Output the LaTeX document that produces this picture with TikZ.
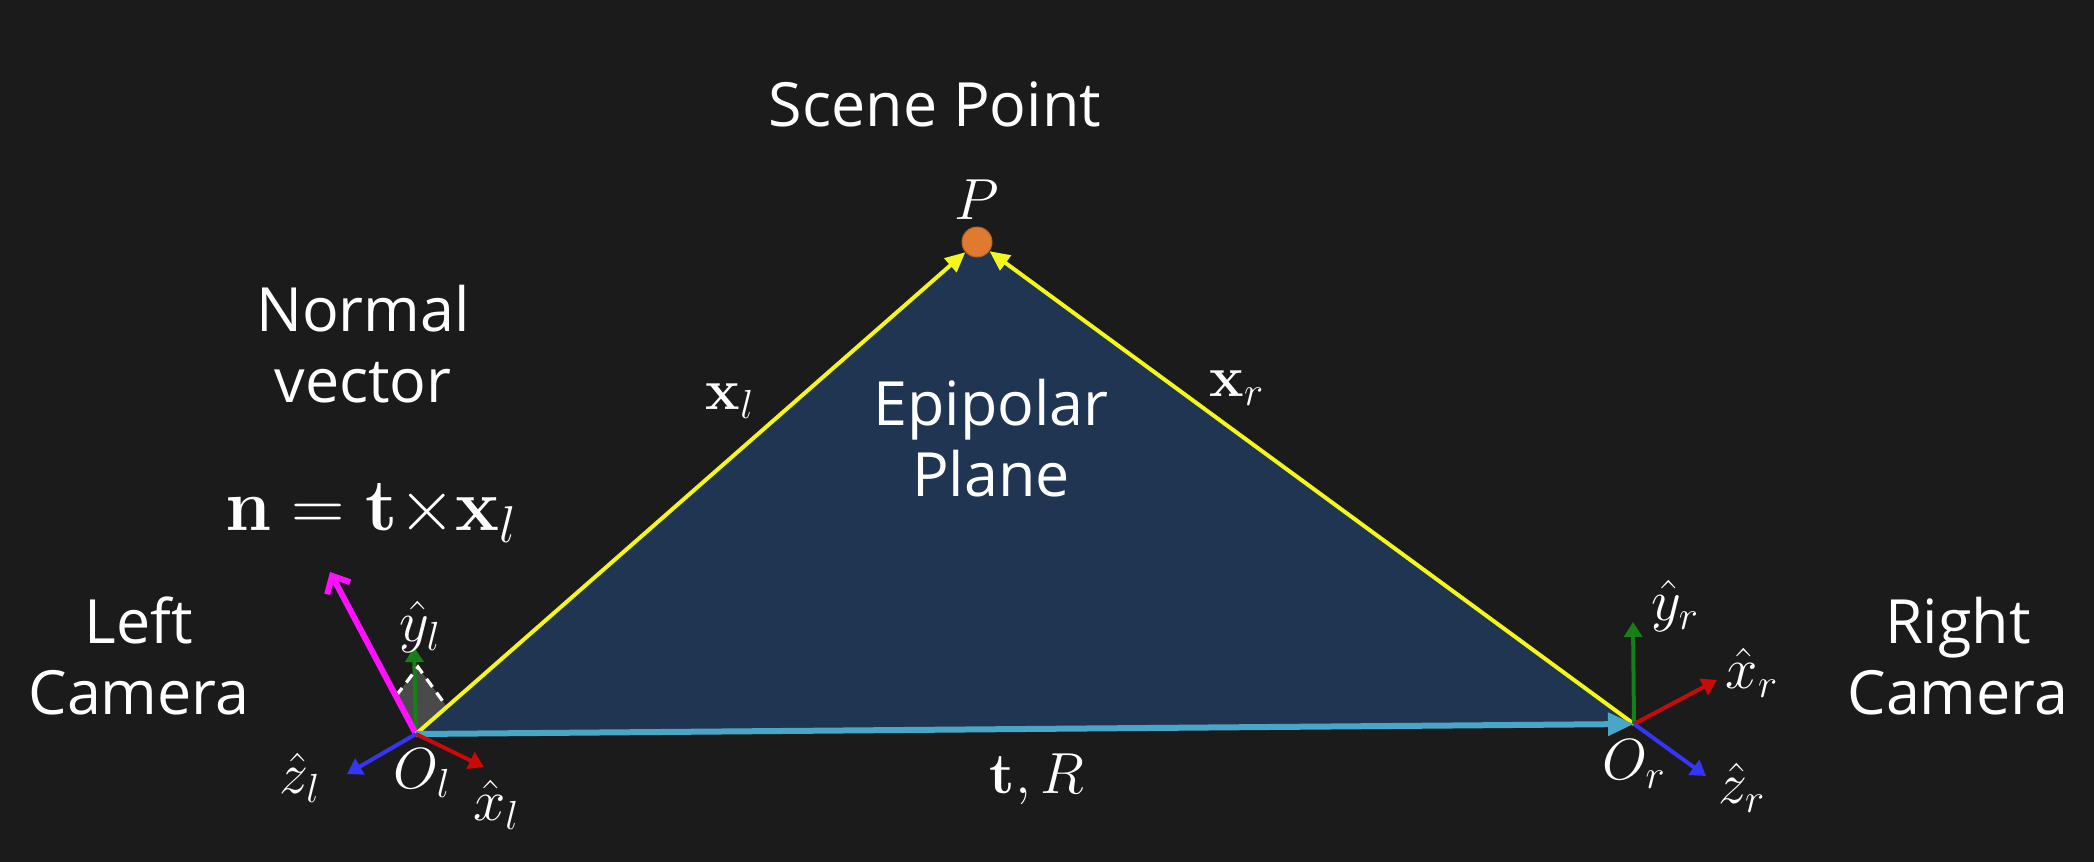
\RequirePackage{fix-cm}
\documentclass[tikz,border=0pt]{standalone}
\usepackage[no-math]{fontspec}
\setmainfont{Open Sans}
\usetikzlibrary{arrows.meta}
\definecolor{bgc}{HTML}{1B1B1B}
\definecolor{planec}{HTML}{1F3552}
\definecolor{yel}{HTML}{F5F520}
\definecolor{cyanc}{HTML}{4AA6C6}
\definecolor{magc}{HTML}{FF10FF}
\definecolor{grn}{HTML}{168016}
\definecolor{redc}{HTML}{C80A0A}
\definecolor{bluc}{HTML}{3535F5}
\definecolor{orng}{HTML}{E07A2E}
\definecolor{quadc}{HTML}{4A4A4A}
\tikzset{
  txt/.style={text=white, font=\fontsize{30.5}{35.5}\selectfont, align=center, inner sep=0pt},
  mlab/.style={text=white, font=\fontsize{29}{32}\selectfont, inner sep=0pt},
  yarrow/.style={draw=yel, line width=2pt, -{Triangle[length=10pt,width=9pt]}},
  carrow/.style={draw=cyanc, line width=3pt, -{Triangle[length=13pt,width=11pt]}},
  axarrow/.style={line width=2pt, -{Triangle[length=7.5pt,width=9pt]}},
  marrow/.style={draw=magc, line width=3pt, -{Straight Barb[length=7pt,width=13pt,line width=3pt]}},
  dashline/.style={draw=white, line width=1.6pt, dash pattern=on 5pt off 3.5pt},
}
\begin{document}
\begin{tikzpicture}[x=0.5pt,y=-0.5pt]
\fill[bgc] (0,0) rectangle (2094,862);
\useasboundingbox (0,0) rectangle (2094,862);
% key points
\coordinate (Ol) at (416,734);
\coordinate (Or) at (1634,724);
\coordinate (Pc) at (977,242);
% plane
\fill[planec] (Ol) -- (Pc) -- (Or) -- cycle;
% left camera details
\coordinate (qL) at (396,696);
\coordinate (qA) at (418,667);
\coordinate (qR) at (447,707);
\fill[quadc] (Ol) -- (qL) -- (qA) -- (qR) -- cycle;
\coordinate (ylt) at (414,647);
\coordinate (xlt) at (484,767);
\coordinate (zlt) at (347,774);
\coordinate (nt) at (330,572);
\draw[axarrow, draw=grn, fill=grn] (Ol) -- (ylt);
\draw[dashline] (qL) -- (qA) -- (qR);
\draw[marrow] (Ol) -- (nt);
% P
\node[circle, fill=orng, draw=orng!80!black, line width=0.5pt, minimum size=15pt, inner sep=0pt] (P) at (Pc) {};
\draw[yarrow] (Ol) -- (P);
\draw[yarrow] (Or) -- (P);
\draw[carrow] (Ol) -- (Or);
\draw[axarrow, draw=redc] (Ol) -- (xlt);
\draw[axarrow, draw=bluc] (Ol) -- (zlt);
% right camera axes
\coordinate (yrt) at (1633,622);
\coordinate (xrt) at (1717,680);
\coordinate (zrt) at (1706,776);
\draw[axarrow, draw=grn] (Or) -- (yrt);
\draw[axarrow, draw=redc] (Or) -- (xrt);
\draw[axarrow, draw=bluc] (Or) -- (zrt);
% labels
\node[mlab] (Plab) at (977,200) {$P$};
\node[mlab] (yl) at (420,627) {$\hat{y}_l$};
\node[mlab] (zl) at (300,778) {$\hat{z}_l$};
\node[mlab] (Oll) at (422,773) {$O_l$};
\node[mlab] (xl) at (496,805) {$\hat{x}_l$};
\node[mlab] (yr) at (1675,606) {$\hat{y}_r$};
\node[mlab] (xr) at (1752,673) {$\hat{x}_r$};
\node[mlab] (Orl) at (1634,764) {$O_r$};
\node[mlab] (zr) at (1742,788) {$\hat{z}_r$};
\node[mlab] (xlv) at (730,401) {$\mathbf{x}_l$};
\node[mlab] (xrv) at (1237,388) {$\mathbf{x}_r$};
\node[mlab] (tR) at (1037,779) {$\mathbf{t}, R$};
\node[mlab, font=\fontsize{37}{40}\selectfont] (neq) at (371,513) {$\mathbf{n}=\mathbf{t}{\times}\mathbf{x}_l$};
% texts
\node[txt] (scene) at (935,104) {Scene Point};
\node[txt] (normal) at (363,344) {Normal\\vector};
\node[txt] (left) at (139,656) {Left\\Camera};
\node[txt] (right) at (1958,656) {Right\\Camera};
\node[txt] (epi) at (991,438) {Epipolar\\Plane};
\end{tikzpicture}
\end{document}
